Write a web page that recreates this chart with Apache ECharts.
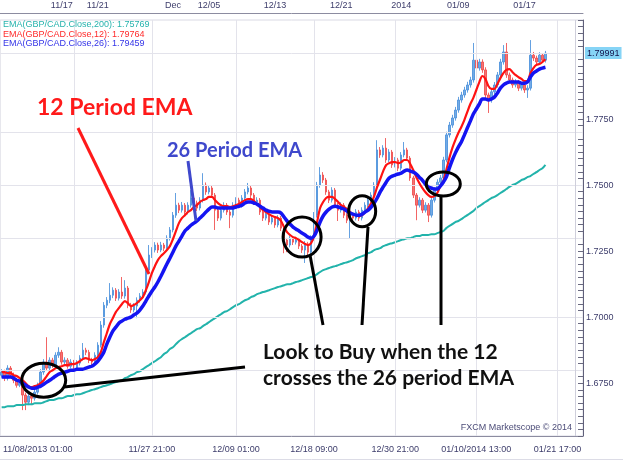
<!DOCTYPE html>
<html>
<head>
<meta charset="utf-8">
<title>GBP/CAD - EMA crossover</title>
<script src="https://cdn.jsdelivr.net/npm/echarts@6.0.0/dist/echarts.min.js"></script>
<style>
  html, body { margin: 0; padding: 0; background: #fff; }
  #chart { width: 623px; height: 461px; }
</style>
</head>
<body>
<div id="chart"></div>
<script>
// GBP/CAD bars (open / close / low / high)
const opens = [
  1.6780, 1.6792, 1.6769, 1.6807, 1.6780, 1.6761, 1.6742, 1.6750, 1.6705, 1.6678,
  1.6701, 1.6693, 1.6716, 1.6742, 1.6792, 1.6830, 1.6807, 1.6837, 1.6818, 1.6856,
  1.6867, 1.6830, 1.6837, 1.6814, 1.6830, 1.6807, 1.6826, 1.6845, 1.6875, 1.6867,
  1.6837, 1.6830, 1.6856, 1.6894, 1.6970, 1.7045, 1.7064, 1.7083, 1.7102, 1.7072,
  1.7095, 1.7080, 1.7110, 1.7045, 1.7027, 1.7042, 1.7064, 1.7080, 1.7095, 1.7178,
  1.7235, 1.7254, 1.7273, 1.7254, 1.7273, 1.7261, 1.7299, 1.7330, 1.7386, 1.7424,
  1.7405, 1.7424, 1.7398, 1.7424, 1.7451, 1.7432, 1.7413, 1.7443, 1.7500, 1.7474,
  1.7489, 1.7462, 1.7405, 1.7375, 1.7405, 1.7424, 1.7398, 1.7386, 1.7424, 1.7443,
  1.7424, 1.7451, 1.7474, 1.7489, 1.7462, 1.7436, 1.7443, 1.7398, 1.7375, 1.7390,
  1.7360, 1.7375, 1.7349, 1.7375, 1.7337, 1.7292, 1.7273, 1.7299, 1.7284, 1.7292,
  1.7269, 1.7254, 1.7277, 1.7246, 1.7299, 1.7386, 1.7500, 1.7538, 1.7519, 1.7474,
  1.7443, 1.7481, 1.7424, 1.7405, 1.7424, 1.7386, 1.7367, 1.7386, 1.7375, 1.7398,
  1.7375, 1.7405, 1.7424, 1.7443, 1.7462, 1.7500, 1.7633, 1.7614, 1.7640, 1.7595,
  1.7625, 1.7576, 1.7595, 1.7564, 1.7614, 1.7633, 1.7602, 1.7527, 1.7462, 1.7424,
  1.7443, 1.7405, 1.7424, 1.7386, 1.7443, 1.7481, 1.7511, 1.7527, 1.7595, 1.7690,
  1.7727, 1.7754, 1.7784, 1.7822, 1.7841, 1.7860, 1.7879, 1.7898, 1.7973, 1.7943,
  1.7966, 1.7936, 1.7841, 1.7822, 1.7853, 1.7879, 1.7917, 1.7966, 1.8004, 1.7917,
  1.7898, 1.7879, 1.7890, 1.7867, 1.7879, 1.7860, 1.7867, 1.7992, 1.7981, 1.7966,
  1.7992, 1.7973
];
const closes = [
  1.6792, 1.6769, 1.6807, 1.6780, 1.6761, 1.6742, 1.6750, 1.6705, 1.6678, 1.6701,
  1.6693, 1.6716, 1.6742, 1.6792, 1.6830, 1.6807, 1.6837, 1.6818, 1.6856, 1.6867,
  1.6830, 1.6837, 1.6814, 1.6830, 1.6807, 1.6826, 1.6845, 1.6875, 1.6867, 1.6837,
  1.6830, 1.6856, 1.6894, 1.6970, 1.7045, 1.7064, 1.7083, 1.7102, 1.7072, 1.7095,
  1.7080, 1.7110, 1.7045, 1.7027, 1.7042, 1.7064, 1.7080, 1.7095, 1.7178, 1.7235,
  1.7254, 1.7273, 1.7254, 1.7273, 1.7261, 1.7299, 1.7330, 1.7386, 1.7424, 1.7405,
  1.7424, 1.7398, 1.7424, 1.7451, 1.7432, 1.7413, 1.7443, 1.7500, 1.7474, 1.7489,
  1.7462, 1.7405, 1.7375, 1.7405, 1.7424, 1.7398, 1.7386, 1.7424, 1.7443, 1.7424,
  1.7451, 1.7474, 1.7489, 1.7462, 1.7436, 1.7443, 1.7398, 1.7375, 1.7390, 1.7360,
  1.7375, 1.7349, 1.7375, 1.7337, 1.7292, 1.7273, 1.7299, 1.7284, 1.7292, 1.7269,
  1.7254, 1.7277, 1.7246, 1.7299, 1.7386, 1.7500, 1.7538, 1.7519, 1.7474, 1.7443,
  1.7481, 1.7424, 1.7405, 1.7424, 1.7386, 1.7367, 1.7386, 1.7375, 1.7398, 1.7375,
  1.7405, 1.7424, 1.7443, 1.7462, 1.7500, 1.7633, 1.7614, 1.7640, 1.7595, 1.7625,
  1.7576, 1.7595, 1.7564, 1.7614, 1.7633, 1.7602, 1.7527, 1.7462, 1.7424, 1.7443,
  1.7405, 1.7424, 1.7386, 1.7443, 1.7481, 1.7511, 1.7527, 1.7595, 1.7690, 1.7727,
  1.7754, 1.7784, 1.7822, 1.7841, 1.7860, 1.7879, 1.7898, 1.7973, 1.7943, 1.7966,
  1.7936, 1.7841, 1.7822, 1.7853, 1.7879, 1.7917, 1.7966, 1.8004, 1.7917, 1.7898,
  1.7879, 1.7890, 1.7867, 1.7879, 1.7860, 1.7867, 1.7992, 1.7981, 1.7966, 1.7992,
  1.7973, 1.79991
];
const lows = [
  1.6771, 1.6758, 1.6760, 1.6771, 1.6750, 1.6733, 1.6735, 1.6648, 1.6648, 1.6667,
  1.6667, 1.6684, 1.6707, 1.6733, 1.6782, 1.6797, 1.6798, 1.6808, 1.6809, 1.6846,
  1.6820, 1.6821, 1.6805, 1.6806, 1.6798, 1.6798, 1.6817, 1.6836, 1.6856, 1.6826,
  1.6819, 1.6821, 1.6847, 1.6885, 1.6960, 1.7034, 1.7053, 1.7072, 1.7061, 1.7063,
  1.7069, 1.7070, 1.7034, 1.7016, 1.7018, 1.6996, 1.7055, 1.7071, 1.7086, 1.7168,
  1.7224, 1.7245, 1.7243, 1.7246, 1.7250, 1.7252, 1.7290, 1.7321, 1.7376, 1.7394,
  1.7396, 1.7387, 1.7389, 1.7415, 1.7421, 1.7402, 1.7404, 1.7434, 1.7463, 1.7465,
  1.7451, 1.7330, 1.7364, 1.7366, 1.7396, 1.7387, 1.7337, 1.7377, 1.7415, 1.7413,
  1.7415, 1.7442, 1.7465, 1.7451, 1.7425, 1.7427, 1.7387, 1.7364, 1.7366, 1.7349,
  1.7351, 1.7338, 1.7340, 1.7326, 1.7242, 1.7246, 1.7264, 1.7273, 1.7275, 1.7258,
  1.7243, 1.7205, 1.7235, 1.7237, 1.7290, 1.7377, 1.7490, 1.7508, 1.7463, 1.7432,
  1.7434, 1.7413, 1.7364, 1.7396, 1.7375, 1.7356, 1.7299, 1.7364, 1.7366, 1.7364,
  1.7366, 1.7396, 1.7415, 1.7434, 1.7453, 1.7490, 1.7603, 1.7605, 1.7584, 1.7586,
  1.7565, 1.7567, 1.7553, 1.7555, 1.7605, 1.7591, 1.7516, 1.7451, 1.7367, 1.7415,
  1.7394, 1.7396, 1.7360, 1.7377, 1.7434, 1.7472, 1.7502, 1.7518, 1.7586, 1.7680,
  1.7717, 1.7744, 1.7774, 1.7812, 1.7831, 1.7850, 1.7869, 1.7888, 1.7932, 1.7933,
  1.7925, 1.7830, 1.7773, 1.7812, 1.7843, 1.7869, 1.7907, 1.7956, 1.7906, 1.7887,
  1.7868, 1.7870, 1.7856, 1.7858, 1.7849, 1.7830, 1.7858, 1.7970, 1.7955, 1.7957,
  1.7962, 1.7964
];
const highs = [
  1.6803, 1.6801, 1.6818, 1.6815, 1.6790, 1.6770, 1.6761, 1.6758, 1.6714, 1.6712,
  1.6710, 1.6727, 1.6752, 1.6803, 1.6841, 1.6924, 1.6848, 1.6846, 1.6867, 1.6886,
  1.6876, 1.6848, 1.6845, 1.6841, 1.6838, 1.6837, 1.6856, 1.6902, 1.6884, 1.6876,
  1.6846, 1.6867, 1.6905, 1.6985, 1.7057, 1.7076, 1.7129, 1.7113, 1.7110, 1.7106,
  1.7152, 1.7140, 1.7118, 1.7054, 1.7053, 1.7075, 1.7091, 1.7106, 1.7190, 1.7273,
  1.7265, 1.7284, 1.7282, 1.7285, 1.7281, 1.7310, 1.7341, 1.7398, 1.7470, 1.7433,
  1.7436, 1.7432, 1.7435, 1.7481, 1.7460, 1.7441, 1.7454, 1.7545, 1.7510, 1.7500,
  1.7497, 1.7470, 1.7414, 1.7416, 1.7435, 1.7432, 1.7407, 1.7435, 1.7454, 1.7452,
  1.7462, 1.7485, 1.7508, 1.7497, 1.7470, 1.7454, 1.7451, 1.7406, 1.7401, 1.7398,
  1.7386, 1.7383, 1.7386, 1.7383, 1.7345, 1.7300, 1.7310, 1.7307, 1.7303, 1.7300,
  1.7277, 1.7288, 1.7285, 1.7310, 1.7398, 1.7512, 1.7568, 1.7549, 1.7527, 1.7482,
  1.7492, 1.7489, 1.7433, 1.7435, 1.7432, 1.7394, 1.7397, 1.7394, 1.7409, 1.7406,
  1.7416, 1.7435, 1.7454, 1.7473, 1.7511, 1.7670, 1.7644, 1.7651, 1.7678, 1.7636,
  1.7633, 1.7606, 1.7603, 1.7625, 1.7663, 1.7641, 1.7610, 1.7535, 1.7470, 1.7454,
  1.7451, 1.7435, 1.7432, 1.7454, 1.7492, 1.7522, 1.7538, 1.7607, 1.7702, 1.7739,
  1.7766, 1.7796, 1.7834, 1.7853, 1.7872, 1.7891, 1.7910, 1.8038, 1.7985, 1.7978,
  1.7976, 1.7946, 1.7850, 1.7864, 1.7890, 1.7928, 1.7978, 1.8030, 1.8038, 1.7926,
  1.7907, 1.7901, 1.7898, 1.7890, 1.7888, 1.7878, 1.8049, 1.8004, 1.7990, 1.8003,
  1.8000, 1.8008
];

// EMA values per bar
const ema12 = [
  1.6792, 1.6792, 1.6788, 1.6788, 1.6780, 1.6777, 1.6769, 1.6761, 1.6750, 1.6739,
  1.6735, 1.6739, 1.6742, 1.6750, 1.6761, 1.6777, 1.6792, 1.6799, 1.6807, 1.6811,
  1.6814, 1.6818, 1.6818, 1.6822, 1.6822, 1.6826, 1.6833, 1.6841, 1.6845, 1.6841,
  1.6837, 1.6841, 1.6848, 1.6867, 1.6905, 1.6939, 1.6973, 1.6996, 1.7019, 1.7034,
  1.7049, 1.7061, 1.7053, 1.7042, 1.7046, 1.7053, 1.7064, 1.7076, 1.7102, 1.7133,
  1.7167, 1.7193, 1.7216, 1.7231, 1.7242, 1.7254, 1.7269, 1.7295, 1.7326, 1.7356,
  1.7375, 1.7386, 1.7398, 1.7405, 1.7417, 1.7424, 1.7436, 1.7443, 1.7447, 1.7455,
  1.7455, 1.7443, 1.7432, 1.7424, 1.7420, 1.7420, 1.7417, 1.7420, 1.7424, 1.7428,
  1.7436, 1.7443, 1.7447, 1.7447, 1.7439, 1.7428, 1.7417, 1.7405, 1.7398, 1.7390,
  1.7383, 1.7379, 1.7375, 1.7364, 1.7341, 1.7322, 1.7311, 1.7303, 1.7299, 1.7292,
  1.7284, 1.7277, 1.7273, 1.7280, 1.7307, 1.7360, 1.7413, 1.7436, 1.7451, 1.7455,
  1.7455, 1.7447, 1.7436, 1.7424, 1.7417, 1.7409, 1.7398, 1.7390, 1.7386, 1.7383,
  1.7386, 1.7398, 1.7413, 1.7432, 1.7458, 1.7493, 1.7523, 1.7553, 1.7576, 1.7583,
  1.7587, 1.7587, 1.7583, 1.7587, 1.7595, 1.7595, 1.7580, 1.7557, 1.7530, 1.7508,
  1.7489, 1.7474, 1.7462, 1.7455, 1.7458, 1.7470, 1.7496, 1.7515, 1.7557, 1.7602,
  1.7640, 1.7670, 1.7697, 1.7720, 1.7746, 1.7777, 1.7807, 1.7830, 1.7860, 1.7890,
  1.7913, 1.7902, 1.7875, 1.7864, 1.7864, 1.7883, 1.7905, 1.7924, 1.7936, 1.7939,
  1.7928, 1.7917, 1.7909, 1.7902, 1.7894, 1.7894, 1.7924, 1.7943, 1.7955, 1.7958,
  1.7966, 1.79764
];
const ema26 = [
  1.6773, 1.6773, 1.6773, 1.6773, 1.6769, 1.6761, 1.6758, 1.6750, 1.6742, 1.6735,
  1.6731, 1.6731, 1.6735, 1.6739, 1.6746, 1.6754, 1.6761, 1.6769, 1.6777, 1.6784,
  1.6788, 1.6792, 1.6795, 1.6799, 1.6799, 1.6803, 1.6803, 1.6803, 1.6807, 1.6811,
  1.6814, 1.6822, 1.6833, 1.6848, 1.6867, 1.6898, 1.6924, 1.6947, 1.6962, 1.6977,
  1.6985, 1.6992, 1.6996, 1.7000, 1.7008, 1.7015, 1.7027, 1.7042, 1.7061, 1.7080,
  1.7098, 1.7114, 1.7133, 1.7155, 1.7178, 1.7201, 1.7223, 1.7246, 1.7269, 1.7288,
  1.7307, 1.7326, 1.7337, 1.7348, 1.7356, 1.7364, 1.7375, 1.7386, 1.7398, 1.7409,
  1.7417, 1.7417, 1.7413, 1.7413, 1.7413, 1.7413, 1.7413, 1.7413, 1.7417, 1.7420,
  1.7424, 1.7432, 1.7436, 1.7436, 1.7432, 1.7428, 1.7420, 1.7413, 1.7405, 1.7401,
  1.7398, 1.7398, 1.7398, 1.7394, 1.7379, 1.7364, 1.7352, 1.7341, 1.7333, 1.7326,
  1.7318, 1.7311, 1.7303, 1.7299, 1.7307, 1.7330, 1.7360, 1.7383, 1.7398, 1.7409,
  1.7417, 1.7420, 1.7417, 1.7413, 1.7409, 1.7401, 1.7394, 1.7390, 1.7386, 1.7386,
  1.7390, 1.7398, 1.7405, 1.7417, 1.7432, 1.7451, 1.7474, 1.7493, 1.7511, 1.7527,
  1.7534, 1.7538, 1.7542, 1.7545, 1.7553, 1.7557, 1.7553, 1.7549, 1.7542, 1.7530,
  1.7519, 1.7504, 1.7493, 1.7489, 1.7485, 1.7485, 1.7496, 1.7511, 1.7530, 1.7564,
  1.7595, 1.7621, 1.7644, 1.7663, 1.7689, 1.7716, 1.7742, 1.7769, 1.7788, 1.7807,
  1.7826, 1.7826, 1.7822, 1.7826, 1.7833, 1.7848, 1.7867, 1.7879, 1.7886, 1.7890,
  1.7890, 1.7890, 1.7890, 1.7886, 1.7886, 1.7890, 1.7909, 1.7924, 1.7932, 1.7939,
  1.7943, 1.79459
];
const ema200 = [
  1.6659, 1.6659, 1.6663, 1.6663, 1.6663, 1.6667, 1.6667, 1.6667, 1.6670, 1.6670,
  1.6670, 1.6674, 1.6674, 1.6674, 1.6678, 1.6682, 1.6686, 1.6686, 1.6689, 1.6693,
  1.6693, 1.6697, 1.6701, 1.6701, 1.6705, 1.6708, 1.6708, 1.6712, 1.6716, 1.6720,
  1.6724, 1.6727, 1.6731, 1.6735, 1.6739, 1.6742, 1.6746, 1.6750, 1.6754, 1.6758,
  1.6761, 1.6769, 1.6773, 1.6780, 1.6784, 1.6792, 1.6795, 1.6803, 1.6811, 1.6818,
  1.6826, 1.6833, 1.6841, 1.6848, 1.6860, 1.6867, 1.6879, 1.6886, 1.6898, 1.6909,
  1.6917, 1.6924, 1.6932, 1.6939, 1.6947, 1.6955, 1.6958, 1.6966, 1.6973, 1.6981,
  1.6989, 1.6996, 1.7004, 1.7011, 1.7019, 1.7023, 1.7030, 1.7038, 1.7045, 1.7049,
  1.7057, 1.7064, 1.7068, 1.7076, 1.7080, 1.7087, 1.7091, 1.7095, 1.7098, 1.7102,
  1.7106, 1.7110, 1.7114, 1.7117, 1.7121, 1.7125, 1.7125, 1.7129, 1.7133, 1.7136,
  1.7140, 1.7144, 1.7148, 1.7152, 1.7155, 1.7163, 1.7171, 1.7178, 1.7182, 1.7186,
  1.7190, 1.7193, 1.7197, 1.7201, 1.7205, 1.7208, 1.7212, 1.7216, 1.7223, 1.7227,
  1.7231, 1.7235, 1.7242, 1.7246, 1.7254, 1.7258, 1.7261, 1.7269, 1.7273, 1.7277,
  1.7280, 1.7284, 1.7288, 1.7292, 1.7295, 1.7299, 1.7299, 1.7303, 1.7307, 1.7307,
  1.7311, 1.7311, 1.7311, 1.7314, 1.7314, 1.7318, 1.7322, 1.7326, 1.7337, 1.7345,
  1.7352, 1.7360, 1.7364, 1.7371, 1.7379, 1.7386, 1.7394, 1.7402, 1.7413, 1.7420,
  1.7428, 1.7436, 1.7443, 1.7451, 1.7455, 1.7462, 1.7470, 1.7477, 1.7485, 1.7493,
  1.7500, 1.7504, 1.7511, 1.7519, 1.7523, 1.7530, 1.7534, 1.7542, 1.7549, 1.7557,
  1.7564, 1.75769
];

// axis layout: bar slots (some empty room is left right of the last bar)
const slotCount = 194;
const bottomLabelSlots = [12, 50, 78, 104, 131, 158, 185];
const bottomLabels = ['11/08/2013 01:00', '11/27 21:00', '12/09 01:00', '12/18 09:00',
  '12/30 21:00', '01/10/2014 13:00', '01/21 17:00'];
const weekSlots = [24, 50, 78, 104, 131, 158, 185];
const topLabelSlots = [20, 32, 57, 69, 91, 113, 133, 152, 174];
const topLabels = ['11/17', '11/21', 'Dec', '12/05', '12/13', '12/21', '2014', '01/09', '01/17'];
const priceGrid = [1.675, 1.700, 1.725, 1.750, 1.775, 1.800];
const priceLabels = [1.675, 1.700, 1.725, 1.750, 1.775];

// where the 12 crosses the 26 (bar index, price)
const crossings = [[14, 1.6761], [100, 1.7303], [120, 1.7401], [147, 1.7504]];

const slots = [];
for (let i = 0; i < slotCount; i++) slots.push(i);
const candles = opens.map((o, i) => [o, closes[i], lows[i], highs[i]]);
const last = arr => arr[arr.length - 1];

const axisFont = 'Liberation Sans';
const axisText = '#3d3d6b';
const gridColor = '#e3e3eb';

let chart = echarts.init(document.getElementById('chart'));

let option = {
  animation: false,
  backgroundColor: '#ffffff',
  grid: {
    left: 0, right: 40, top: 20, bottom: 25,
    show: true, borderColor: '#dadae4', borderWidth: 1
  },
  xAxis: [
    {
      type: 'category', data: slots, position: 'bottom',
      axisLine: {lineStyle: {color: '#8c8ca0'}},
      axisTick: {
        alignWithLabel: true, length: 3,
        interval: (i) => i % 3 === 0,
        lineStyle: {color: '#6a6a80'}
      },
      axisLabel: {
        interval: (i) => bottomLabelSlots.indexOf(i) >= 0,
        formatter: (v) => bottomLabels[bottomLabelSlots.indexOf(Number(v))] || '',
        fontFamily: axisFont, fontSize: 9, color: axisText, margin: 9
      },
      splitLine: {show: false}
    },
    {
      type: 'category', data: slots, position: 'bottom',
      axisLine: {show: false},
      axisTick: {
        alignWithLabel: true, length: 7,
        interval: (i) => weekSlots.indexOf(i) >= 0,
        lineStyle: {color: '#6a6a80'}
      },
      axisLabel: {show: false},
      splitLine: {show: false}
    },
    {
      type: 'category', data: slots, position: 'top', offset: 7,
      axisLine: {lineStyle: {color: '#8c8ca0'}},
      axisTick: {
        inside: true, alignWithLabel: true, length: 3,
        interval: (i) => i % 3 === 0,
        lineStyle: {color: '#6a6a80'}
      },
      axisLabel: {show: false},
      splitLine: {show: false}
    },
    {
      type: 'category', data: slots, position: 'top', offset: 7,
      axisLine: {show: false},
      axisTick: {
        inside: true, alignWithLabel: true, length: 6,
        interval: (i) => topLabelSlots.indexOf(i) >= 0,
        lineStyle: {color: '#6a6a80'}
      },
      axisLabel: {
        interval: (i) => topLabelSlots.indexOf(i) >= 0,
        formatter: (v) => topLabels[topLabelSlots.indexOf(Number(v))] || '',
        fontFamily: axisFont, fontSize: 9, color: axisText, margin: 3
      },
      splitLine: {show: false}
    }
  ],
  yAxis: [{
    type: 'value', position: 'right',
    min: 1.6550, max: 1.8125, interval: 0.0025,
    axisLine: {show: true, lineStyle: {color: '#60607a'}},
    axisTick: {show: true, inside: true, length: 5, lineStyle: {color: '#6a6a80'}},
    axisLabel: {
      formatter: (v) => priceLabels.some(p => Math.abs(p - v) < 1e-7) ? v.toFixed(4) : '',
      fontFamily: axisFont, fontSize: 9, color: axisText, margin: 3
    },
    splitLine: {show: false}
  }],
  series: [
    {
      // grid lines
      type: 'line', data: [], z: 0, silent: true,
      markLine: {
        silent: true, symbol: 'none', animation: false,
        label: {show: false},
        lineStyle: {color: gridColor, type: 'solid', width: 1},
        data: priceGrid.map(p => ({yAxis: p}))
          .concat(weekSlots.map(s => ({xAxis: s})))
          .concat([{xAxis: 191, lineStyle: {color: '#cfcfdb', type: 'solid', width: 1}}])
      }
    },
    {
      name: 'GBP/CAD', type: 'candlestick', data: candles, barWidth: 2, z: 3,
      itemStyle: {
        color: '#5a9ce2', color0: '#f25a5a',
        borderColor: '#4a90dc', borderColor0: '#f04a4a',
        borderWidth: 1, opacity: 0.85
      },
      emphasis: {disabled: true},
      markLine: {
        silent: true, symbol: 'none', animation: false,
        data: [{
          yAxis: last(closes),
          lineStyle: {color: 'rgba(0,0,0,0)', width: 0},
          label: {
            show: true, position: 'end', distance: 2,
            formatter: () => last(closes).toFixed(5),
            backgroundColor: '#86d4f6', color: '#12124a',
            fontFamily: axisFont, fontSize: 9, padding: [2, 2, 1, 2]
          }
        }]
      }
    },
    {
      name: 'EMA200', type: 'line', data: ema200, symbol: 'none', smooth: 0.3, z: 4,
      lineStyle: {color: '#22b3ab', width: 2}, emphasis: {disabled: true}
    },
    {
      name: 'EMA12', type: 'line', data: ema12, symbol: 'none', smooth: 0.3, z: 5,
      lineStyle: {color: '#ff1212', width: 2.2}, emphasis: {disabled: true}
    },
    {
      name: 'EMA26', type: 'line', data: ema26, symbol: 'none', smooth: 0.3, z: 6,
      lineStyle: {color: '#1414f2', width: 3.5}, emphasis: {disabled: true}
    }
  ]
};

chart.setOption(option);

// annotations
let rings = [[22, 17], [19, 20], [13.5, 15.5], [17, 12]];
let ringPx = crossings.map(c => chart.convertToPixel({xAxisIndex: 0, yAxisIndex: 0}, c));

let graphics = [];
ringPx.forEach((p, k) => {
  graphics.push({
    type: 'ellipse', z: 100,
    shape: {cx: p[0], cy: p[1], rx: rings[k][0], ry: rings[k][1]},
    style: {fill: 'none', stroke: '#000', lineWidth: 3}
  });
});

let pointers = [
  {from: [78, 128], to: [149, 274], color: '#ff1a1a'},
  {from: [188, 161], to: [196, 221], color: '#3f48cc'},
  {from: [64, 387], to: [245, 367], color: '#000'},
  {from: [310, 255], to: [323, 325], color: '#000'},
  {from: [368, 227], to: [362, 325], color: '#000'},
  {from: [441, 196], to: [441, 325], color: '#000'}
];
pointers.forEach(l => {
  graphics.push({
    type: 'line', z: 100,
    shape: {x1: l.from[0], y1: l.from[1], x2: l.to[0], y2: l.to[1]},
    style: {stroke: l.color, lineWidth: 3}
  });
});

let notes = [
  {text: '12 Period EMA', x: 37, y: 108, font: 'bold 23px Lato', fill: '#ff1a1a'},
  {text: '26 Period EMA', x: 167, y: 151, font: 'bold 20px Lato', fill: '#3f48cc'},
  {text: 'Look to Buy when the 12', x: 263, y: 352, font: 'bold 21px Lato', fill: '#111'},
  {text: 'crosses the 26 period EMA', x: 263, y: 378, font: 'bold 21px Lato', fill: '#111'},
  {text: 'EMA(GBP/CAD.Close,200): ' + last(ema200).toFixed(5), x: 3, y: 25, font: '9px ' + axisFont, fill: '#26b3ad'},
  {text: 'EMA(GBP/CAD.Close,12): ' + last(ema12).toFixed(5), x: 3, y: 35, font: '9px ' + axisFont, fill: '#ff2a2a'},
  {text: 'EMA(GBP/CAD.Close,26): ' + last(ema26).toFixed(5), x: 3, y: 44, font: '9px ' + axisFont, fill: '#3434e8'}
];
notes.forEach(n => {
  graphics.push({
    type: 'text', z: 100,
    style: {text: n.text, x: n.x, y: n.y, font: n.font, fill: n.fill, align: 'left', verticalAlign: 'middle'}
  });
});

graphics.push({
  type: 'text', z: 100,
  style: {text: 'FXCM Marketscope \u00a9 2014', x: 572, y: 428, font: '9px ' + axisFont,
    fill: '#4c4c78', align: 'right', verticalAlign: 'middle'}
});
graphics.push({
  type: 'line', z: 100,
  shape: {x1: 0, y1: 459.5, x2: 623, y2: 459.5},
  style: {stroke: '#dcdce6', lineWidth: 1}
});

chart.setOption({graphic: graphics});
</script>
</body>
</html>
